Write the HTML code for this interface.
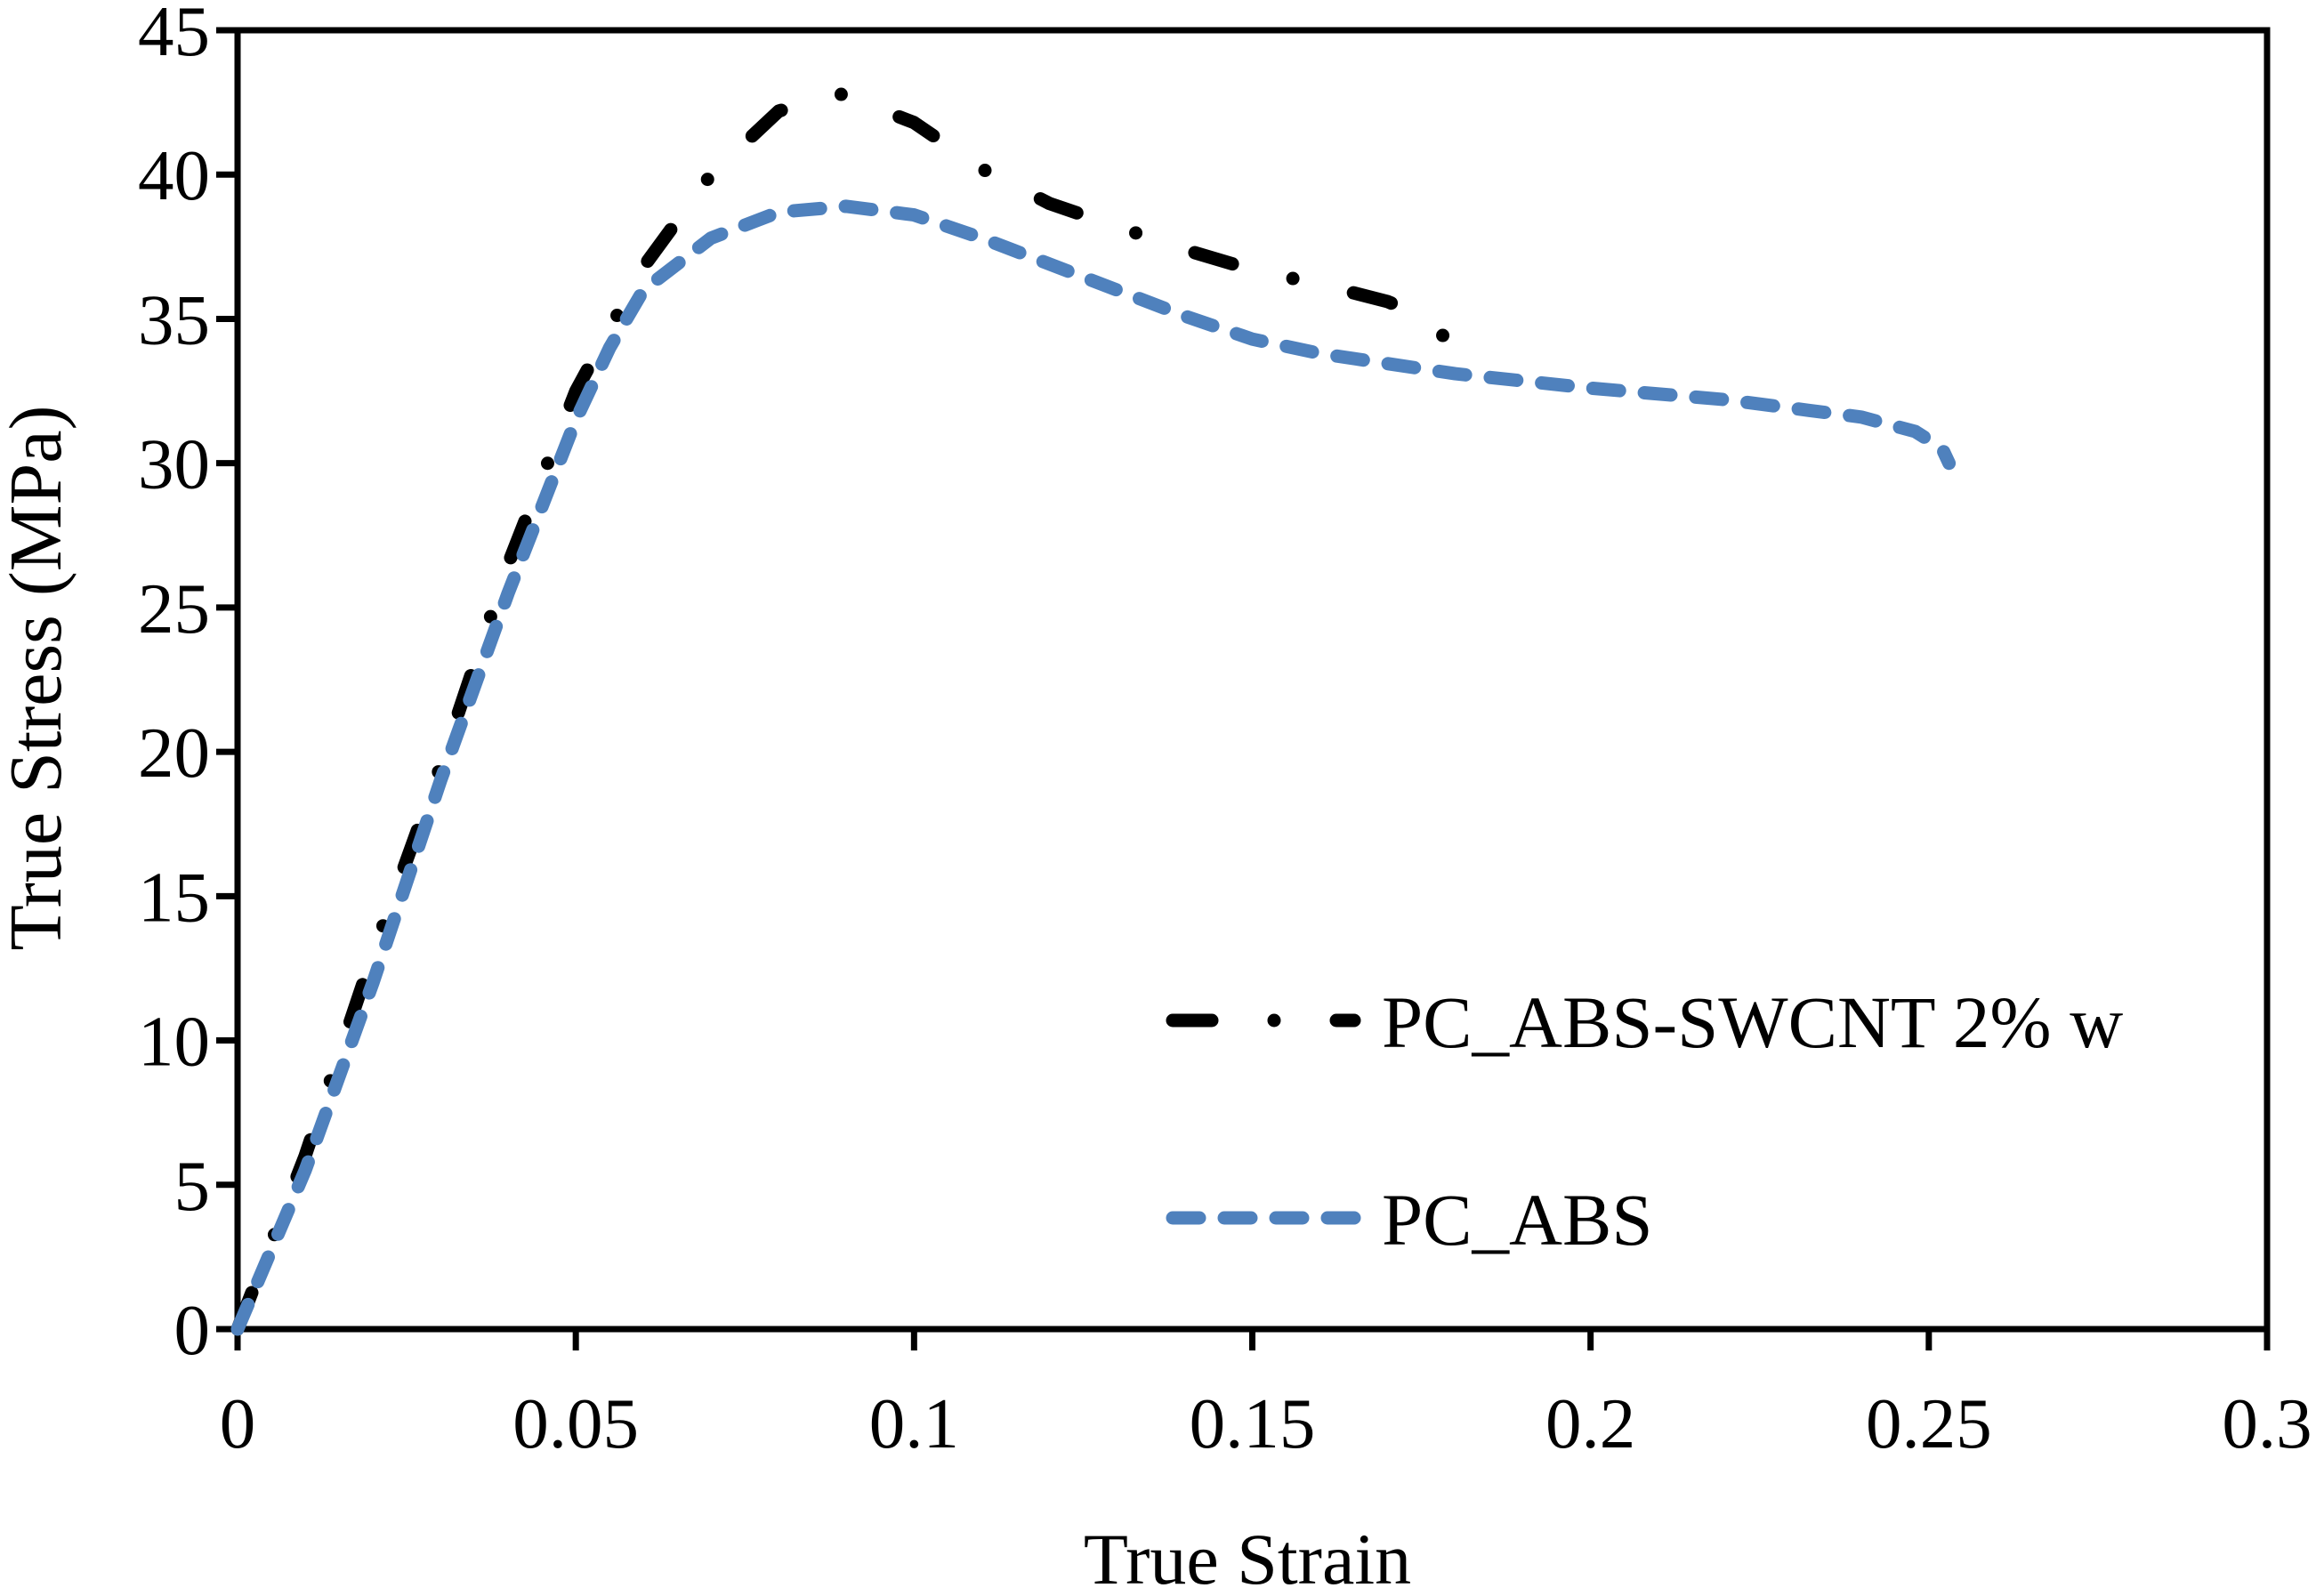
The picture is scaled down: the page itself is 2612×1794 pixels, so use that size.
<!DOCTYPE html>
<html><head><meta charset="utf-8"><style>
html,body{margin:0;padding:0;background:#fff;}
svg{display:block;}
text{font-family:"Liberation Serif",serif;fill:#000;}
</style></head><body>
<svg id="chart" width="2612" height="1794" viewBox="0 0 2612 1794" xmlns="http://www.w3.org/2000/svg">
<g id="axes"></g>
<g id="series"></g>
<g id="legend">
  <line x1="1318" y1="1147" x2="1522" y2="1147" stroke="#000" stroke-width="15" stroke-linecap="round" stroke-dasharray="44 70 0 70"/>
  <text x="1553" y="1177" font-size="83">PC_ABS-SWCNT 2% w</text>
  <line x1="1318" y1="1369" x2="1522" y2="1369" stroke="#4f81bd" stroke-width="15" stroke-linecap="round" stroke-dasharray="30 28"/>
  <text x="1553" y="1399" font-size="83">PC_ABS</text>
</g>
<text transform="translate(68,762) rotate(-90)" text-anchor="middle" font-size="84">True Stress (MPa)</text>
<text x="1402" y="1780" text-anchor="middle" font-size="82">True Strain</text>
</svg>
<script>
const xTicks=[0,0.05,0.1,0.15,0.2,0.25,0.3];
const xTickLabels=["0","0.05","0.1","0.15","0.2","0.25","0.3"];
const yTicks=[0,5,10,15,20,25,30,35,40,45];
const yTickLabels=["0","5","10","15","20","25","30","35","40","45"];
const swcntStrain=[0,0.01,0.02,0.03,0.04,0.05,0.06,0.07,0.08,0.089,0.1,0.11,0.12,0.13,0.14,0.15,0.16,0.17,0.176,0.179];
const swcntStress=[0,6,13,19.5,26.5,32.5,36.8,40,42.2,42.8,41.8,40.2,39,38.2,37.4,36.7,36.2,35.6,35,34.2];
const pcabsStrain=[0,0.01,0.02,0.03,0.04,0.05,0.055,0.06,0.07,0.08,0.09,0.1,0.11,0.12,0.13,0.14,0.15,0.16,0.18,0.2,0.22,0.24,0.248,0.252,0.253];
const pcabsStress=[0,5.5,12,19,25.5,31.5,34,36,37.8,38.7,38.9,38.6,37.8,36.9,36,35.1,34.3,33.8,33.1,32.6,32.2,31.6,31.1,30.5,30];
const X0=267,X1=2548,Y0=1494,Y1=34;
const sx=v=>X0+(v-0)/0.3*(X1-X0);
const sy=v=>Y0-(v-0)/45*(Y0-Y1);
const NS="http://www.w3.org/2000/svg";
const axes=document.getElementById('axes');
function mk(tag,attrs,parent){const e=document.createElementNS(NS,tag);for(const k in attrs)e.setAttribute(k,attrs[k]);parent.appendChild(e);return e;}
const frame=mk('rect',{x:X0,y:Y1,width:X1-X0,height:Y0-Y1,fill:'none',stroke:'#000','stroke-width':7},axes);


xTicks.forEach((t,i)=>{
  const l=mk('line',{x1:sx(t),y1:Y0,x2:sx(t),y2:Y0+24,stroke:'#000','stroke-width':7},axes);
  
  
  const tx=mk('text',{x:sx(t),y:1627,'text-anchor':'middle','font-size':81},axes);
  tx.textContent=xTickLabels[i];
  
  
});
yTicks.forEach((t,i)=>{
  const l=mk('line',{x1:X0-24,y1:sy(t),x2:X0,y2:sy(t),stroke:'#000','stroke-width':7},axes);
  
  
  const tx=mk('text',{x:236,y:sy(t)+28,'text-anchor':'end','font-size':81},axes);
  tx.textContent=yTickLabels[i];
  
  
});
const ser=document.getElementById('series');
function path(xs,ys){return xs.map((x,i)=>(i?'L':'M')+sx(x).toFixed(1)+','+sy(ys[i]).toFixed(1)).join(' ');}
const p1=mk('path',{d:path(swcntStrain,swcntStress),fill:'none',stroke:'#000','stroke-width':15,'stroke-linecap':'round','stroke-linejoin':'round','stroke-dasharray':'44 70 0 70'},ser);


const p2=mk('path',{d:path(pcabsStrain,pcabsStress),fill:'none',stroke:'#4f81bd','stroke-width':15,'stroke-linecap':'round','stroke-linejoin':'round','stroke-dasharray':'30 28'},ser);


</script>
</body></html>
